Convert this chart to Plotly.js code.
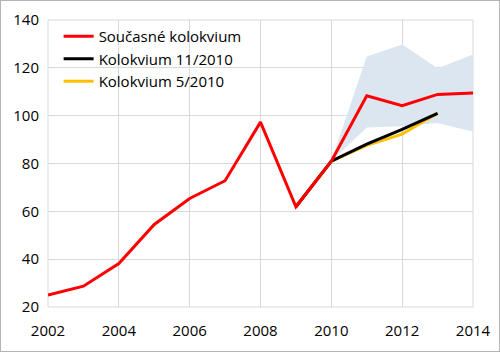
<!DOCTYPE html>
<html>
<head>
<meta charset="utf-8">
<script src="https://cdn.plot.ly/plotly-3.0.1.min.js"></script>
<style>
html,body{margin:0;padding:0;background:#fff;}
#wrap{position:relative;width:500px;height:352px;}
#chart{width:500px;height:352px;}
#frame{position:absolute;left:0;top:0;width:500px;height:352px;box-sizing:border-box;border:1px solid #b4b4b4;pointer-events:none;}
</style>
</head>
<body>
<div id="wrap"><div id="chart"></div><div id="frame"></div></div>
<script>
var years = [2002,2003,2004,2005,2006,2007,2008,2009,2010,2011,2012,2013,2014];
var current = [25,28.7,38.2,54.5,65.4,72.8,97.3,61.9,81,108.3,104.2,108.9,109.5];
var nov2010Years = [2009,2010,2011,2012,2013];
var nov2010 = [61.9,81,88.1,94.3,101];
var may2010Years = [2009,2010,2011,2012,2013];
var may2010 = [61.9,81,87.6,92.3,101];
var bandYears = [2010,2011,2012,2013,2014];
var bandUpper = [81,124.7,129.8,119.8,125.6];
var bandLower = [81,95.1,95.6,96.9,93.3];
var names = ["Současné kolokvium","Kolokvium 11/2010","Kolokvium 5/2010"];

var bandX = bandYears.concat(bandYears.slice().reverse());
var bandY = bandUpper.concat(bandLower.slice().reverse());

var traces = [
  {x: bandX, y: bandY, type:'scatter', mode:'lines', fill:'toself',
   fillcolor:'#dce6f1', line:{width:0, color:'rgba(0,0,0,0)'}, showlegend:false, hoverinfo:'skip'},
  {x: may2010Years, y: may2010, type:'scatter', mode:'lines', name: names[2],
   line:{color:'#ffc000', width:3}},
  {x: nov2010Years, y: nov2010, type:'scatter', mode:'lines', name: names[1],
   line:{color:'#000000', width:3}},
  {x: years, y: current, type:'scatter', mode:'lines', name: names[0],
   line:{color:'#ff0000', width:3}}
];

var layout = {
  width:500, height:352,
  margin:{l:48, r:27, t:20, b:45},
  paper_bgcolor:'#ffffff', plot_bgcolor:'#ffffff',
  font:{family:'"Open Sans", "Noto Sans", sans-serif', size:15, color:'#000'},
  showlegend:true,
  legend:{x:0.025, y:1.0, xanchor:'left', yanchor:'top', traceorder:'reversed',
          bgcolor:'rgba(255,255,255,0)', font:{size:15}, tracegroupgap:0, itemwidth:30},
  xaxis:{range:[2002,2014], tickvals:[2002,2004,2006,2008,2010,2012,2014],
         showgrid:true, gridcolor:'#d9d9d9', gridwidth:1, zeroline:false,
         showline:false, ticks:'', ticklen:0, tickfont:{size:15}, fixedrange:true,
         ticklabelstandoff:13},
  yaxis:{range:[20,140], tickvals:[20,40,60,80,100,120,140],
         showgrid:true, gridcolor:'#d9d9d9', gridwidth:1, zeroline:false,
         showline:false, ticks:'', tickfont:{size:15}, fixedrange:true,
         ticklabelstandoff:8},
  shapes:[{type:'rect', xref:'paper', yref:'paper', x0:0, x1:1, y0:0, y1:1,
           line:{color:'#d9d9d9', width:1}, fillcolor:'rgba(0,0,0,0)', layer:'below'}]
};

Plotly.newPlot('chart', traces, layout, {displayModeBar:false, staticPlot:true});
</script>
</body>
</html>
